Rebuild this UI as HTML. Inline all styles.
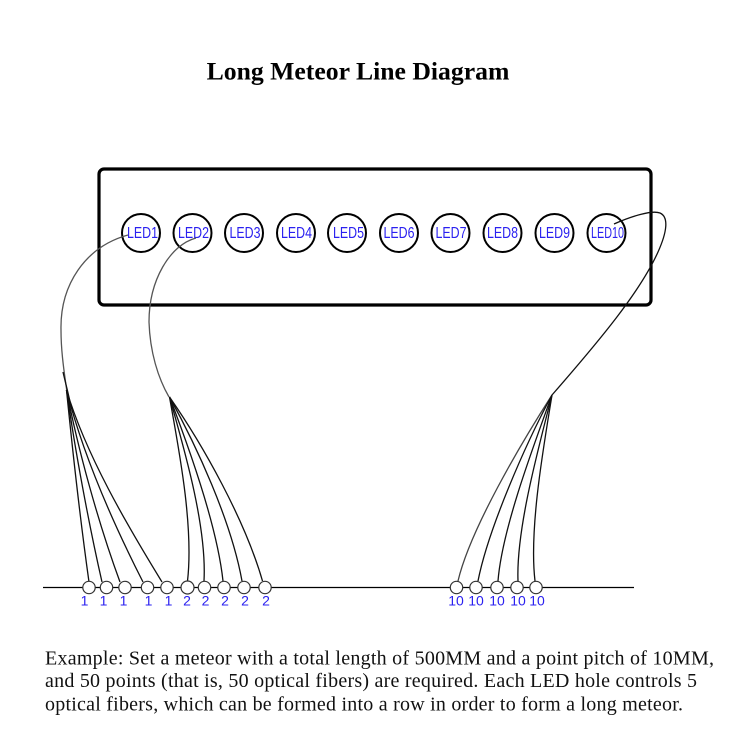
<!DOCTYPE html>
<html><head><meta charset="utf-8"><style>
html,body{margin:0;padding:0;background:#fff}
svg{display:block}
.t{font-family:"Liberation Sans",sans-serif;font-size:14px;fill:#2a20f0;text-anchor:middle}
.l{font-family:"Liberation Sans",sans-serif;font-size:15.500px;fill:#2a20f0;text-anchor:middle}
.p{font-family:"Liberation Serif",serif;font-size:20px;fill:#111}
</style></head><body>
<svg width="750" height="750" viewBox="0 0 750 750" xmlns="http://www.w3.org/2000/svg">
<text x="358" y="79.500" text-anchor="middle" style="font-family:'Liberation Serif',serif;font-weight:bold;font-size:25.700px" fill="#000">Long Meteor Line Diagram</text>
<rect x="99" y="169" width="552" height="136" rx="5" fill="none" stroke="#000" stroke-width="3.200"/>
<g fill="none" stroke="#000" stroke-width="2">
<circle cx="141" cy="233" r="19"/><circle cx="192.500" cy="233" r="19"/><circle cx="244" cy="233" r="19"/><circle cx="296" cy="233" r="19"/><circle cx="347" cy="233" r="19"/><circle cx="399" cy="233" r="19"/><circle cx="450.500" cy="233" r="19"/><circle cx="502.500" cy="233" r="19"/><circle cx="554.500" cy="233" r="19"/><circle cx="606.500" cy="233" r="19"/>
</g>
<g>
<text class="l" x="142.500" y="238" textLength="31" lengthAdjust="spacingAndGlyphs">LED1</text><text class="l" x="193.500" y="238" textLength="31" lengthAdjust="spacingAndGlyphs">LED2</text><text class="l" x="245" y="238" textLength="31" lengthAdjust="spacingAndGlyphs">LED3</text><text class="l" x="296.500" y="238" textLength="31" lengthAdjust="spacingAndGlyphs">LED4</text><text class="l" x="348.500" y="238" textLength="31" lengthAdjust="spacingAndGlyphs">LED5</text><text class="l" x="399" y="238" textLength="31" lengthAdjust="spacingAndGlyphs">LED6</text><text class="l" x="451" y="238" textLength="31" lengthAdjust="spacingAndGlyphs">LED7</text><text class="l" x="502.500" y="238" textLength="31" lengthAdjust="spacingAndGlyphs">LED8</text><text class="l" x="554.500" y="238" textLength="31" lengthAdjust="spacingAndGlyphs">LED9</text><text class="l" x="607.500" y="238" textLength="33" lengthAdjust="spacingAndGlyphs">LED10</text>
</g>
<g fill="none" stroke="#555" stroke-width="1.300">
<path d="M128,235 C85,247 60,285 61,330 C61,348 63,365 67,392"/>
<path d="M196,238 C170,245 149,280 149,322 C150,352 158,378 169,397"/>
</g>
<g fill="none" stroke="#111" stroke-width="1.300">
<path d="M614,224 C632,216 652,210 660,213 C669,217 667,232 658,252 C640,292 600,340 552,395"/>
<path d="M63,372 C66,385 68,392 70,402"/>
<path d="M66.500,390 C72,445 81,525 89,582"/>
<path d="M66.500,390 C75,450 89,525 102,582"/>
<path d="M66.500,390 C78,450 99,525 120,582"/>
<path d="M66.500,390 C83,455 114,525 143,582"/>
<path d="M66.500,390 C86,455 127,525 162,582"/>
<path d="M169.500,397 C178,445 194,525 187.500,581"/>
<path d="M169.500,397 C183,445 207,525 204,581"/>
<path d="M169.500,397 C188,445 217,525 223,581"/>
<path d="M169.500,397 C196,445 231,520 242,581"/>
<path d="M169.500,397 C203,445 245,520 262.500,581"/>
<path d="M552,395 C520,445 470,530 458,581" stroke="#444"/>
<path d="M552,395 C525,445 488,530 478,581"/>
<path d="M552,395 C532,450 502,530 498,581"/>
<path d="M552,395 C538,450 516,530 518,581"/>
<path d="M552,395 C543,450 529,530 535,581"/>
<line x1="43" y1="587.500" x2="634" y2="587.500" stroke="#000"/>
</g>
<g fill="#fff" stroke="#333" stroke-width="1.200">
<circle cx="89" cy="587.500" r="6.200"/><circle cx="106.500" cy="587.500" r="6.200"/><circle cx="125" cy="587.500" r="6.200"/><circle cx="147.500" cy="587.500" r="6.200"/><circle cx="167" cy="587.500" r="6.200"/><circle cx="187.500" cy="587.500" r="6.500"/><circle cx="204.500" cy="587.500" r="6.200"/><circle cx="224" cy="587.500" r="6.200"/><circle cx="244" cy="587.500" r="6.200"/><circle cx="265" cy="587.500" r="6.200"/>
<circle cx="456.500" cy="587.500" r="6.200"/><circle cx="476" cy="587.500" r="6.200"/><circle cx="497" cy="587.500" r="6.200"/><circle cx="517" cy="587.500" r="6.200"/><circle cx="536" cy="587.500" r="6.200"/>
</g>
<g>
<text class="t" x="84.500" y="605.500">1</text><text class="t" x="103.500" y="605.500">1</text><text class="t" x="123.500" y="605.500">1</text><text class="t" x="148.500" y="605.500">1</text><text class="t" x="168.500" y="605.500">1</text><text class="t" x="187" y="605.500">2</text><text class="t" x="205.500" y="605.500">2</text><text class="t" x="225" y="605.500">2</text><text class="t" x="245" y="605.500">2</text><text class="t" x="266" y="605.500">2</text>
<text class="t" x="456" y="605.500">10</text><text class="t" x="476" y="605.500">10</text><text class="t" x="497" y="605.500">10</text><text class="t" x="518" y="605.500">10</text><text class="t" x="537" y="605.500">10</text>
</g>
<text class="p" x="45" y="664.500" textLength="669" lengthAdjust="spacing">Example: Set a meteor with a total length of 500MM and a point pitch of 10MM,</text>
<text class="p" x="45" y="687" textLength="652" lengthAdjust="spacing">and 50 points (that is, 50 optical fibers) are required. Each LED hole controls 5</text>
<text class="p" x="45" y="710.500" textLength="638" lengthAdjust="spacing">optical fibers, which can be formed into a row in order to form a long meteor.</text>
</svg>
</body></html>
